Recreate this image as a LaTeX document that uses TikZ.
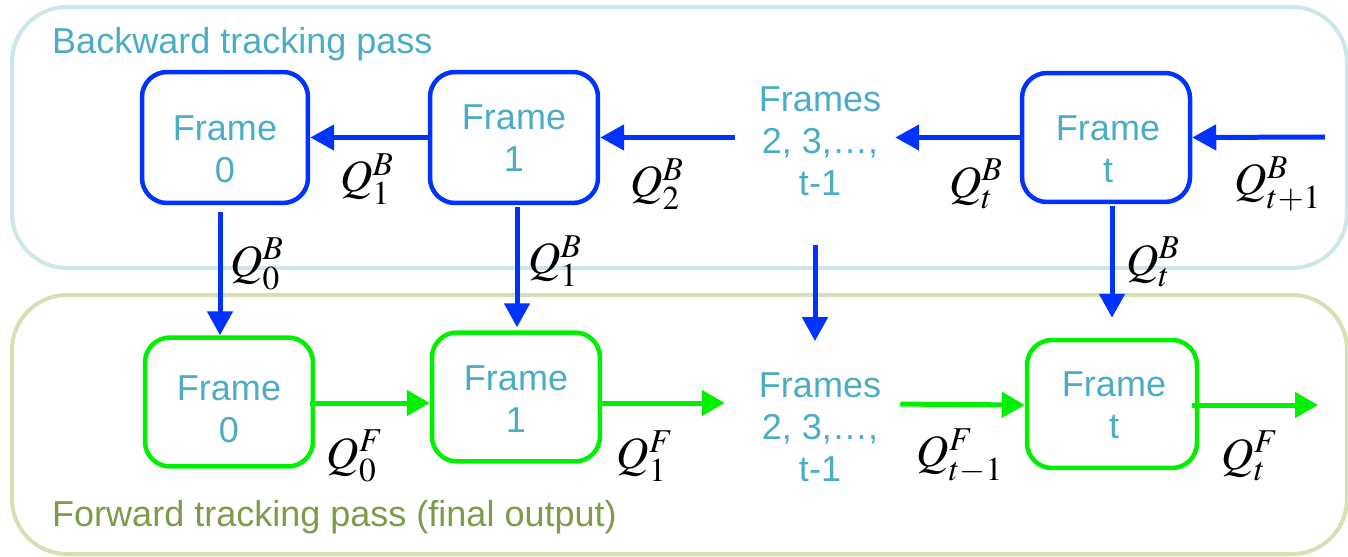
\documentclass[tikz,border=0pt]{standalone}
\usepackage{mathptmx}
\usepackage[no-math]{fontspec}
\setmainfont{Liberation Sans}
\usetikzlibrary{arrows.meta}
\DeclareMathSizes{25.5}{25.5}{19}{15}

\definecolor{frametxt}{HTML}{4BACC6}
\definecolor{bwdline}{HTML}{0033FF}
\definecolor{fwdline}{HTML}{00F000}
\definecolor{bwdpanel}{HTML}{CDE6E8}
\definecolor{fwdpanel}{HTML}{D4E2B3}
\definecolor{fwdtitle}{HTML}{7F9A48}

\tikzset{
  panel/.style={line width=0.08cm, rounded corners=1.1cm},
  bwdbox/.style={draw=bwdline, line width=0.09cm, rounded corners=0.5cm},
  fwdbox/.style={draw=fwdline, line width=0.09cm, rounded corners=0.5cm},
  frametext/.style={align=center, text=frametxt, font=\fontsize{20.5}{24}\selectfont},
  bwdflow/.style={draw=bwdline, line width=0.1cm, -{Triangle[length=0.48cm,width=0.5cm]}},
  fwdflow/.style={draw=fwdline, line width=0.1cm, -{Triangle[length=0.46cm,width=0.5cm]}},
  qlabel/.style={inner sep=0pt, font=\fontsize{25.5}{28}\selectfont}
}

\begin{document}
\begin{tikzpicture}[x=0.02cm, y=-0.02cm]
  \useasboundingbox (0,0) rectangle (1348,557);
  % the two passes
  \draw[panel, draw=bwdpanel] (12,7) rectangle (1347,268);
  \draw[panel, draw=fwdpanel] (12,295) rectangle (1347,554);
  \node[anchor=west, text=frametxt, font=\fontsize{20.5}{24}\selectfont] (bwdtitle) at (46,44) {Backward tracking pass};
  \node[anchor=west, text=fwdtitle, font=\fontsize{20.5}{24}\selectfont] (fwdtitle) at (46,517) {Forward tracking pass (final output)};

  % backward frames
  \node[bwdbox, minimum width=3.32cm, minimum height=2.62cm] (b0) at (225,137.5) {};
  \node[bwdbox, minimum width=3.36cm, minimum height=2.62cm] (b1) at (514,137.5) {};
  \node[bwdbox, minimum width=3.36cm, minimum height=2.58cm] (bt) at (1106,137.5) {};
  \node[frametext] (b0txt) at (225,149) {Frame\\0};
  \node[frametext] (b1txt) at (514,138) {Frame\\1};
  \node[frametext] (bttxt) at (1108,149) {Frame\\t};
  \node[frametext] (bmid) at (820,141) {Frames\\2, 3,\dots,\\t-1};
  \coordinate (bin) at (1325,137);

  % forward frames
  \node[fwdbox, minimum width=3.36cm, minimum height=2.58cm] (f0) at (229,402) {};
  \node[fwdbox, minimum width=3.36cm, minimum height=2.58cm] (f1) at (516,397) {};
  \node[fwdbox, minimum width=3.4cm, minimum height=2.56cm] (ft) at (1112,404) {};
  \node[frametext] (f0txt) at (229,409) {Frame\\0};
  \node[frametext] (f1txt) at (516,399) {Frame\\1};
  \node[frametext] (fttxt) at (1114,405) {Frame\\t};
  \node[frametext] (fmid) at (820,427) {Frames\\2, 3,\dots,\\t-1};
  \coordinate (fout) at (1318,405);

  % backward arrows
  \draw[bwdflow] (b1.west) -- (b1.west -| b0.east);
  \draw[bwdflow, shorten <=0.36cm] (bmid.west |- b1.east) -- (b1.east);
  \draw[bwdflow, shorten >=0.16cm] (bt.west) -- (bt.west -| bmid.east);
  \draw[bwdflow] (bin) -- (bt.east);
  \draw[bwdflow, shorten <=0.14cm] ([xshift=-0.1cm]b0.south) -- ([xshift=-0.1cm]b0.south |- f0.north);
  \draw[bwdflow, shorten <=0.04cm, shorten >=0.06cm] ([xshift=0.06cm]b1.south) -- ([xshift=0.06cm]b1.south |- f1.north);
  \draw[bwdflow, shorten <=0.86cm, shorten >=0.5cm] ([xshift=-0.1cm]bmid.south) -- ([xshift=-0.1cm]fmid.north);
  \draw[bwdflow, shorten <=0.04cm, shorten >=0.4cm] (ft.north |- bt.south) -- (ft.north);

  % forward arrows
  \draw[fwdflow, shorten <=-0.1cm] (f0.east |- 0,403) -- (f1.west |- 0,403);
  \draw[fwdflow, shorten >=0.56cm] (f1.east |- 0,403) -- (fmid.west |- 0,403);
  \draw[fwdflow, shorten <=0.26cm] (fmid.east |- ft.west) -- (ft.west |- 0,405);
  \draw[fwdflow, shorten <=-0.14cm] (ft.east |- 0,405) -- (fout);

  % messages
  \node[qlabel] (q1b) at (367,179) {$Q_1^B$};
  \node[qlabel] (q2b) at (657,184) {$Q_2^B$};
  \node[qlabel] (qtb) at (976,184) {$Q_t^B$};
  \node[qlabel] (qt1b) at (1278,184) {$Q_{t+1}^B$};
  \node[qlabel] (q0bd) at (257,264) {$Q_0^B$};
  \node[qlabel] (q1bd) at (555,261) {$Q_1^B$};
  \node[qlabel] (qtbd) at (1153,262) {$Q_t^B$};
  \node[qlabel] (q0f) at (355,456) {$Q_0^F$};
  \node[qlabel] (q1f) at (645,456) {$Q_1^F$};
  \node[qlabel] (qt1f) at (960,456) {$Q_{t-1}^F$};
  \node[qlabel] (qtf) at (1250,456) {$Q_t^F$};
\end{tikzpicture}
\end{document}
